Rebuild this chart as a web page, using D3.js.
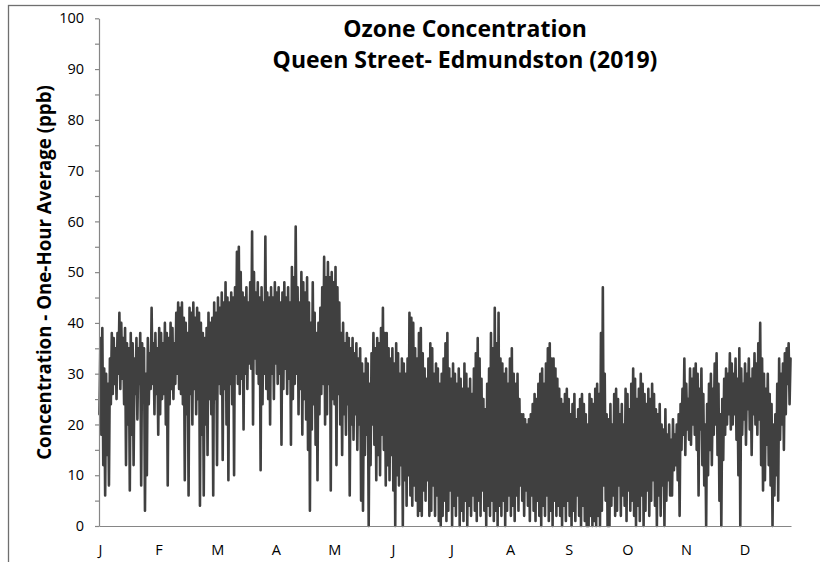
<!DOCTYPE html>
<html>
<head>
<meta charset="utf-8">
<script src="https://cdn.jsdelivr.net/npm/d3@7/dist/d3.min.js"></script>
<style>
  body { margin: 0; background: #fff; }
  svg { display: block; font-family: "Open Sans", "Liberation Sans", sans-serif; }
</style>
</head>
<body>
<div id="chart"></div>
<script>
var monthLabels = ["J", "F", "M", "A", "M", "J", "J", "A", "S", "O", "N", "D"];
var yTickValues = [0, 10, 20, 30, 40, 50, 60, 70, 80, 90, 100];
var titleLines = ["Ozone Concentration", "Queen Street- Edmundston (2019)"];
var yTitle = "Concentration - One-Hour Average (ppb)";

// daily [high, low] one-hour readings (ppb)
var jan = [[37,22],[39,18],[31,12],[30,6],[28,14],[33,8],[38,24],[37,26],[35,28],[38,25],[42,30],[40,27],[37,29],[39,24],[36,12],[35,20],[38,7],[36,18],[33,12],[37,26],[35,21],[38,28],[36,8],[35,25],[30,3],[37,10],[34,24],[43,27],[36,28],[38,22],[35,26]];
var feb = [[39,18],[38,22],[36,25],[40,26],[38,20],[37,8],[40,24],[39,27],[36,25],[42,28],[44,30],[43,27],[44,26],[41,24],[40,9],[38,22],[43,6],[42,26],[44,20],[41,27],[43,22],[42,25],[40,4],[38,18],[37,6],[39,20],[42,14],[40,25]];
var mar = [[41,22],[44,6],[42,25],[45,12],[43,28],[46,26],[44,13],[48,27],[45,20],[44,9],[46,28],[45,24],[47,10],[54,30],[55,28],[50,26],[46,29],[45,19],[47,30],[44,27],[48,32],[58,31],[50,20],[46,33],[48,30],[45,28],[47,11],[44,24],[57,30],[46,27],[45,25]];
var apr = [[47,20],[45,30],[48,25],[46,32],[47,28],[44,30],[46,16],[48,27],[45,31],[47,26],[44,29],[51,16],[49,25],[59,28],[47,30],[44,22],[50,27],[48,18],[46,25],[49,21],[44,15],[40,3],[48,19],[42,24],[38,16],[40,9],[43,22],[47,26],[53,28],[49,20]];
var may = [[52,22],[49,28],[50,7],[48,25],[51,24],[47,12],[44,26],[38,20],[40,14],[36,22],[38,18],[37,24],[35,6],[37,20],[34,17],[36,22],[33,15],[35,20],[32,5],[30,3],[33,14],[32,18],[28,0],[34,12],[38,20],[35,16],[37,9],[36,14],[39,10],[43,18],[38,15]];
var jun = [[38,8],[35,12],[33,9],[35,14],[32,7],[36,0],[34,10],[30,8],[33,12],[32,0],[30,9],[33,4],[42,10],[41,6],[40,4],[35,8],[33,5],[38,2],[39,3],[34,2],[31,7],[29,5],[33,9],[36,2],[35,3],[30,8],[32,2],[31,6],[28,1],[30,0]];
var jul = [[33,2],[36,5],[38,1],[31,3],[29,7],[32,0],[30,4],[28,2],[31,6],[29,0],[27,3],[32,1],[30,5],[27,0],[29,4],[26,2],[31,6],[34,3],[37,1],[33,5],[29,2],[25,7],[23,3],[28,0],[31,4],[38,2],[35,5],[43,1],[36,3],[42,0],[33,4]];
var aug = [[32,2],[30,5],[31,0],[28,3],[33,6],[35,2],[30,4],[28,1],[30,6],[25,3],[22,8],[22,5],[21,2],[20,7],[21,4],[22,1],[24,6],[26,3],[25,1],[28,5],[30,2],[31,0],[28,4],[32,2],[35,6],[36,1],[33,3],[33,0],[31,5],[29,2],[27,4]];
var sep = [[25,2],[24,0],[26,4],[27,1],[25,5],[22,2],[24,0],[26,3],[21,1],[23,6],[25,2],[26,0],[24,4],[22,1],[20,0],[26,0],[25,2],[24,0],[27,1],[28,0],[26,2],[38,0],[47,3],[30,8],[22,5],[21,0],[24,0],[20,4],[26,6],[27,2]];
var oct = [[25,3],[22,8],[24,2],[20,6],[27,4],[26,1],[23,7],[28,3],[31,5],[29,2],[25,0],[27,4],[30,1],[28,6],[26,0],[24,3],[27,7],[25,2],[28,5],[26,9],[23,4],[22,0],[24,6],[20,2],[19,8],[23,0],[18,5],[20,9],[17,6],[21,6],[18,11]];
var nov = [[20,12],[22,9],[24,2],[27,15],[33,18],[28,14],[25,19],[31,17],[29,16],[31,20],[32,18],[30,15],[27,6],[31,19],[26,12],[20,8],[24,0],[28,10],[30,15],[27,12],[32,18],[34,20],[28,14],[22,5],[25,0],[29,13],[31,18],[30,20],[34,22],[32,19]];
var dec = [[30,20],[33,22],[29,17],[35,10],[31,0],[28,18],[32,21],[30,16],[33,23],[29,19],[31,14],[34,22],[32,20],[36,18],[40,21],[33,12],[30,7],[27,9],[30,16],[26,12],[24,8],[20,0],[22,6],[28,10],[33,5],[30,17],[32,20],[34,15],[35,22],[36,28],[33,24]];

var months = [jan, feb, mar, apr, may, jun, jul, aug, sep, oct, nov, dec];

var W = 820, H = 562;
var LEFT = 99, RIGHT = 791, TOP = 18.3, BOTTOM = 526;

var svg = d3.select("#chart").append("svg")
    .attr("width", W)
    .attr("height", H);

// chart frame (runs off the right and bottom edge)
svg.append("rect")
    .attr("x", 8.5).attr("y", 5.5)
    .attr("width", 840).attr("height", 600)
    .attr("fill", "none")
    .attr("stroke", "#6f6f6f")
    .attr("stroke-width", 1.3);

// turn daily high/low into a running series
var series = [];
var day = 0;
months.forEach(function(m) {
    m.forEach(function(d) {
        series.push({t: day + 0.25, v: d[1]});
        series.push({t: day + 0.75, v: d[0]});
        day++;
    });
});

var x = d3.scaleLinear().domain([0, day]).range([LEFT, RIGHT]);
var y = d3.scaleLinear().domain([0, 100]).range([BOTTOM, TOP]);
var monthPos = d3.scalePoint().domain(d3.range(12)).range([100.5, 745]);

var line = d3.line()
    .x(function(d) { return x(d.t); })
    .y(function(d) { return y(d.v); });

svg.append("path")
    .datum(series)
    .attr("d", line)
    .attr("fill", "none")
    .attr("stroke", "#404040")
    .attr("stroke-width", 2.6)
    .attr("stroke-linejoin", "round")
    .attr("stroke-linecap", "round");

// y axis
var yAxis = svg.append("g")
    .attr("transform", "translate(" + LEFT + ",0)")
    .call(d3.axisLeft(y)
        .tickValues(d3.range(0, 101, 5))
        .tickSize(4)
        .tickSizeOuter(0)
        .tickPadding(11)
        .tickFormat(function(d) { return yTickValues.indexOf(d) >= 0 ? d : ""; }));
yAxis.select(".domain").attr("stroke", "#868686").attr("stroke-width", 1.2);
yAxis.selectAll(".tick line").attr("stroke", "#868686").attr("stroke-width", 1.2);
yAxis.selectAll(".tick text")
    .attr("font-family", "Open Sans, sans-serif")
    .attr("font-size", 14.5)
    .attr("fill", "#000");

// x axis: plain line, no tick marks
var xAxis = svg.append("g")
    .attr("transform", "translate(0," + BOTTOM + ")")
    .call(d3.axisBottom(x).tickValues([]).tickSizeOuter(0));
xAxis.select(".domain").attr("stroke", "#868686").attr("stroke-width", 1.2);

svg.append("g").selectAll("text")
    .data(monthLabels)
    .join("text")
    .attr("x", function(d, i) { return monthPos(i); })
    .attr("y", 555)
    .attr("text-anchor", "middle")
    .attr("font-size", 14.5)
    .attr("fill", "#000")
    .text(function(d) { return d; });

function fitWidth(sel, target) {
    var len = sel.node().getComputedTextLength();
    var size = parseFloat(sel.attr("font-size")) * target / len;
    sel.attr("font-size", size);
    return size;
}

// titles: both lines share one size, set by the wider line
var t2 = svg.append("text")
    .attr("x", 465).attr("y", 68)
    .attr("text-anchor", "middle")
    .attr("font-weight", "bold")
    .attr("font-size", 20)
    .text(titleLines[1]);
var titleSize = fitWidth(t2, 385);

svg.append("text")
    .attr("x", 465).attr("y", 37)
    .attr("text-anchor", "middle")
    .attr("font-weight", "bold")
    .attr("font-size", titleSize)
    .text(titleLines[0]);

var yt = svg.append("text")
    .attr("transform", "translate(51,272.5) rotate(-90)")
    .attr("text-anchor", "middle")
    .attr("font-weight", "bold")
    .attr("font-size", 16)
    .text(yTitle);
fitWidth(yt, 375);
</script>
</body>
</html>
